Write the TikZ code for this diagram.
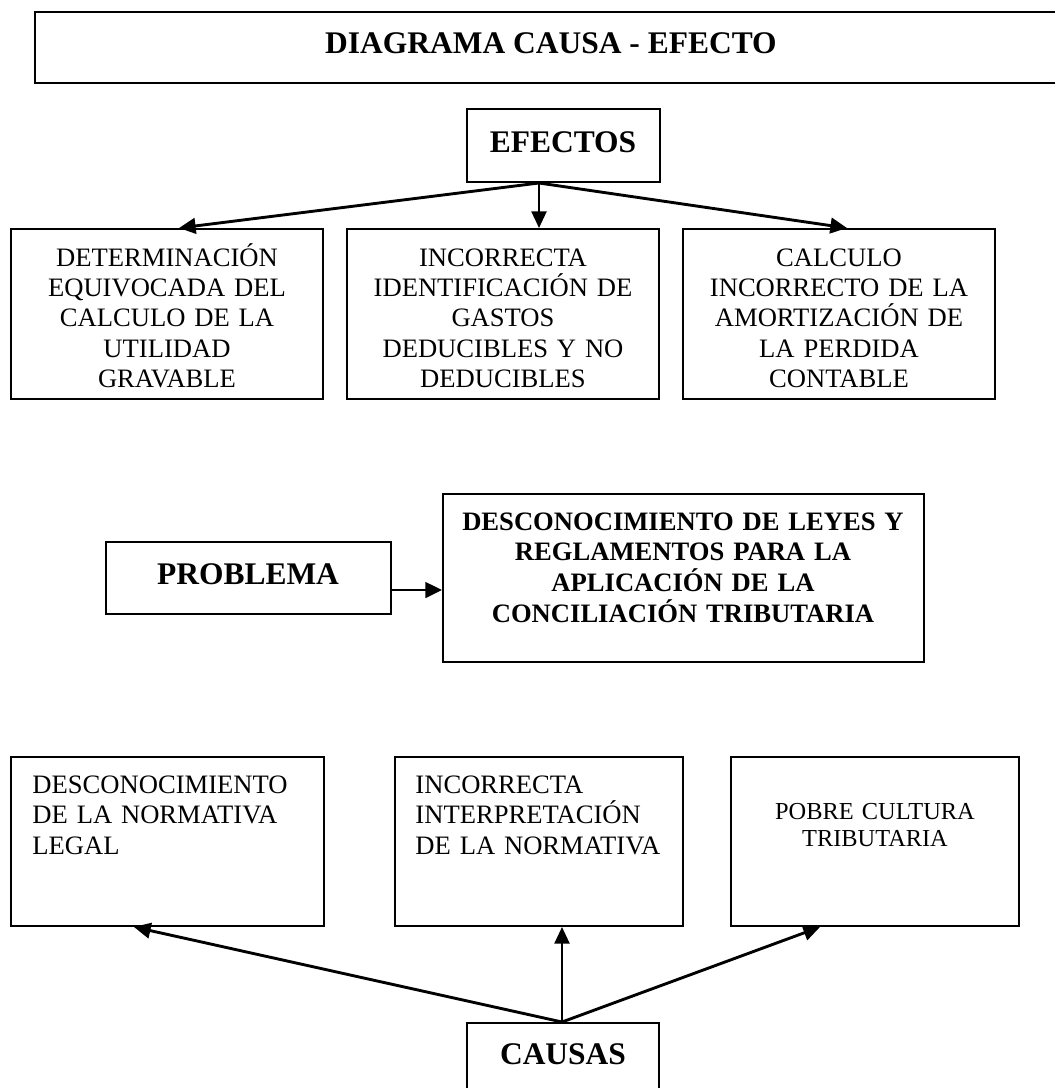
\documentclass[tikz,border=0pt]{standalone}
\usepackage{fontspec}
\setmainfont{Liberation Serif}
\usetikzlibrary{arrows.meta,fit,calc}
\tikzset{
  boxnode/.style={draw, line width=0.9pt, inner sep=0pt, rectangle},
  conn/.style={line width=1.3pt, -{Triangle[length=7.5pt,width=7pt]}},
  vconn/.style={line width=0.9pt, -{Triangle[length=7.5pt,width=6.8pt]}},
  headtxt/.style={inner sep=0pt, anchor=base, font=\fontsize{14.2}{16}\selectfont\bfseries},
  boldtxt/.style={inner sep=0pt, anchor=base, text width=230pt, align=center, font=\fontsize{12}{13.95}\selectfont\bfseries},
  ctrtxt/.style={inner sep=0pt, anchor=base, text width=135pt, align=center, font=\fontsize{12}{13.7}\selectfont},
  lefttxt/.style={inner sep=0pt, anchor=base west, text width=125pt, align=left, font=\fontsize{12}{13.9}\selectfont},
  smalltxt/.style={inner sep=0pt, anchor=base, text width=125pt, align=center, font=\fontsize{11}{12.6}\selectfont},
}
\begin{document}
\begin{tikzpicture}[x=0.4511pt,y=-0.4511pt]
\useasboundingbox (0,0) rectangle (1054,1088);

% title
\node[boxnode, fit={(35,12) (1070,83)}] (title) {};
\node[headtxt] (titletxt) at (551,53) {DIAGRAMA CAUSA - EFECTO};

% efectos
\node[boxnode, fit={(467,109) (660,182)}] (efectos) {};
\node[headtxt] (efectostxt) at (563,152) {EFECTOS};

\node[boxnode, fit={(11,229) (323,399)}] (e1) {};
\node[boxnode, fit={(347,229) (659,399)}] (e2) {};
\node[boxnode, fit={(683,229) (995,399)}] (e3) {};
\node[ctrtxt] (e1txt) at (167,266) {DETERMINACIÓN\\EQUIVOCADA DEL\\CALCULO DE LA\\UTILIDAD\\GRAVABLE};
\node[ctrtxt] (e2txt) at (503,266) {INCORRECTA\\IDENTIFICACIÓN DE\\GASTOS\\DEDUCIBLES Y NO\\DEDUCIBLES};
\node[ctrtxt] (e3txt) at (839,266) {CALCULO\\INCORRECTO DE LA\\AMORTIZACIÓN DE\\LA PERDIDA\\CONTABLE};

\draw[conn] ($(efectos.south west)+(73,0)$) -- ($(e1.north west)+(169,0)$);
\draw[vconn] ($(efectos.south west)+(73,0)$) -- ($(e2.north west)+(193,0)$);
\draw[conn] ($(efectos.south west)+(73,0)$) -- ($(e3.north west)+(165,0)$);

% problema
\node[boxnode, fit={(106,542) (391,614)}] (problema) {};
\node[headtxt] (problematxt) at (248,584) {PROBLEMA};
\node[boxnode, fit={(443,494) (924,662)}] (prob) {};
\node[boldtxt] (probtxt) at (683,530) {DESCONOCIMIENTO DE LEYES Y\\REGLAMENTOS PARA LA\\APLICACIÓN DE LA\\CONCILIACIÓN TRIBUTARIA};
\draw[conn] ($(problema.south east)+(0,-25)$) -- ($(prob.south west)+(0,-73)$);

% causas
\node[boxnode, fit={(11,757) (324,926)}] (c1) {};
\node[boxnode, fit={(395,757) (683,926)}] (c2) {};
\node[boxnode, fit={(731,757) (1019,926)}] (c3) {};
\node[lefttxt] (c1txt) at (32,793) {DESCONOCIMIENTO\\DE LA NORMATIVA\\LEGAL};
\node[lefttxt] (c2txt) at (415,793) {INCORRECTA\\INTERPRETACIÓN\\DE LA NORMATIVA};
\node[smalltxt] (c3txt) at (875,819) {POBRE CULTURA\\TRIBUTARIA};

\node[boxnode, fit={(467,1023) (659,1100)}] (causas) {};
\node[headtxt] (causastxt) at (563,1064) {CAUSAS};

\draw[conn] ($(causas.north west)+(96,0)$) -- ($(c1.south west)+(124,0)$);
\draw[vconn] ($(causas.north west)+(96,0)$) -- ($(c2.south west)+(168,0)$);
\draw[conn] ($(causas.north west)+(96,0)$) -- ($(c3.south west)+(90,0)$);
\end{tikzpicture}
\end{document}
